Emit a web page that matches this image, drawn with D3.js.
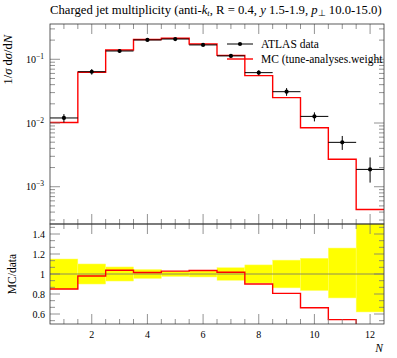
<!DOCTYPE html>
<html>
<head>
<meta charset="utf-8">
<script src="https://d3js.org/d3.v7.min.js"></script>
<style>
  body { margin: 0; background: #fff; }
  text { font-family: "Liberation Serif", serif; fill: #000; }
</style>
</head>
<body>
<svg id="chart" width="397" height="358"></svg>
<script>
// values
const nBins     = [1, 2, 3, 4, 5, 6, 7, 8, 9, 10, 11, 12];
const dataVal   = [0.0120, 0.0638, 0.135, 0.201, 0.208, 0.168, 0.113, 0.0617, 0.0310, 0.0127, 0.00497, 0.00187];
const dataErrUp = [0.0018, 0.0064, 0.0095, 0.0090, 0.0052, 0.0050, 0.0071, 0.0056, 0.0043, 0.0020, 0.00129, 0.00101];
const dataErrDn = [0.0018, 0.0064, 0.0095, 0.0090, 0.0052, 0.0050, 0.0071, 0.0056, 0.0043, 0.0021, 0.00119, 0.00071];
const mcVal     = [0.0102, 0.0625, 0.140, 0.204, 0.214, 0.174, 0.115, 0.0555, 0.0250, 0.00842, 0.00270, 0.00044];
const xTicks  = [2, 4, 6, 8, 10, 12];
const ratioTicks = [0.6, 0.8, 1, 1.2, 1.4];
const logTicks = [-1, -2, -3];

const svg = d3.select("svg#chart");
const pLeft = 50, pRight = 384, pTop = 24, pMid = 224, pBottom = 324;

const x  = d3.scaleLinear().domain([0.5, 12.5]).range([pLeft, pRight]);
const y  = d3.scaleLog().domain([2.6e-4, 0.358]).range([pMid, pTop]);
const yr = d3.scaleLinear().domain([0.5, 1.5]).range([pBottom, pMid]);

const bins = nBins.map((n, i) => ({
  lo: n - 0.5, hi: n + 0.5, n: n,
  d: dataVal[i], eu: dataErrUp[i], ed: dataErrDn[i], mc: mcVal[i]
}));

const defs = svg.append("defs");
defs.append("clipPath").attr("id", "clipR")
  .append("rect").attr("x", pLeft).attr("y", pMid).attr("width", pRight - pLeft).attr("height", pBottom - pMid);
defs.append("clipPath").attr("id", "clipM")
  .append("rect").attr("x", pLeft).attr("y", pTop).attr("width", pRight - pLeft).attr("height", pMid - pTop);

// ---- ratio panel ----
const rp = svg.append("g").attr("clip-path", "url(#clipR)");
rp.selectAll("rect.band").data(bins).join("rect")
  .attr("class", "band")
  .attr("x", d => x(d.lo)).attr("width", d => x(d.hi) - x(d.lo))
  .attr("y", d => yr(1 + d.eu / d.d))
  .attr("height", d => yr(1 - d.ed / d.d) - yr(1 + d.eu / d.d))
  .attr("fill", "#ffff00").attr("stroke", "#ffff66").attr("stroke-width", 0.5);
rp.append("line")
  .attr("x1", pLeft).attr("x2", pRight).attr("y1", yr(1)).attr("y2", yr(1))
  .attr("stroke", "#808060").attr("stroke-width", 0.9);

const stepPts = (acc, sc) => {
  const pts = [];
  bins.forEach(b => { pts.push([x(b.lo), sc(acc(b))]); pts.push([x(b.hi), sc(acc(b))]); });
  return pts;
};
rp.append("path")
  .attr("d", d3.line()(stepPts(b => Math.max(b.mc / b.d, 0.3), yr)))
  .attr("fill", "none").attr("stroke", "#ff0000").attr("stroke-width", 1.4);

// ---- main panel ----
const mp = svg.append("g").attr("clip-path", "url(#clipM)");
mp.append("path")
  .attr("d", d3.line()(stepPts(b => b.mc, y)))
  .attr("fill", "none").attr("stroke", "#ff0000").attr("stroke-width", 1.4);

const pts = mp.selectAll("g.pt").data(bins).join("g").attr("class", "pt");
pts.append("line")
  .attr("x1", d => x(d.lo)).attr("x2", d => x(d.hi))
  .attr("y1", d => y(d.d)).attr("y2", d => y(d.d))
  .attr("stroke", "#000").attr("stroke-width", 1);
pts.append("line")
  .attr("x1", d => x(d.n)).attr("x2", d => x(d.n))
  .attr("y1", d => y(d.d - d.ed)).attr("y2", d => y(d.d + d.eu))
  .attr("stroke", "#000").attr("stroke-width", 1);
pts.append("circle")
  .attr("cx", d => x(d.n)).attr("cy", d => y(d.d)).attr("r", 2.1).attr("fill", "#000");

// ---- frames and ticks ----
const tk = svg.append("g").attr("stroke", "#777").attr("stroke-width", 0.8);
function xTickMarks(yTop, yBot) {
  d3.range(1, 12.5, 0.5).forEach(v => {
    const major = xTicks.includes(v);
    const L = major ? 10 : 5;
    tk.append("line").attr("x1", x(v)).attr("x2", x(v)).attr("y1", yTop).attr("y2", yTop + L);
    tk.append("line").attr("x1", x(v)).attr("x2", x(v)).attr("y1", yBot).attr("y2", yBot - L);
  });
}
xTickMarks(pTop, pMid);
xTickMarks(pMid, pBottom);

function yTickMark(py, L) {
  tk.append("line").attr("x1", pLeft).attr("x2", pLeft + L).attr("y1", py).attr("y2", py);
  tk.append("line").attr("x1", pRight).attr("x2", pRight - L).attr("y1", py).attr("y2", py);
}
// log ticks
y.ticks().forEach(v => {
  const lg = Math.log10(v);
  const major = Math.abs(lg - Math.round(lg)) < 1e-6;
  yTickMark(y(v), major ? 10 : 5);
});
// ratio ticks
d3.range(0, 16).map(k => 0.6 + k * 0.2 / 3 - 0.2 / 3).forEach(v => {
  if (v < 0.5 || v > 1.5) return;
  const major = ratioTicks.some(t => Math.abs(t - v) < 1e-6);
  yTickMark(yr(v), major ? 10 : 5);
});

svg.append("rect").attr("x", pLeft).attr("y", pTop).attr("width", pRight - pLeft).attr("height", pMid - pTop)
  .attr("fill", "none").attr("stroke", "#333").attr("stroke-width", 0.8);
svg.append("rect").attr("x", pLeft).attr("y", pMid).attr("width", pRight - pLeft).attr("height", pBottom - pMid)
  .attr("fill", "none").attr("stroke", "#333").attr("stroke-width", 0.8);

// ---- labels ----
const lab = svg.append("g").attr("font-size", 10);
logTicks.forEach(p => {
  const t = lab.append("text").attr("x", 44).attr("y", y(Math.pow(10, p)) + 3.5).attr("text-anchor", "end");
  t.append("tspan").text("10");
  t.append("tspan").attr("dy", -4).attr("font-size", 7.5).text("\u2212" + (-p));
});
ratioTicks.forEach(v => {
  lab.append("text").attr("x", 45).attr("y", yr(v) + 3.5).attr("text-anchor", "end").text(d3.format("~g")(v));
});
xTicks.forEach(v => {
  lab.append("text").attr("x", x(v)).attr("y", 338).attr("text-anchor", "middle").text(v);
});

svg.append("text").attr("x", 383).attr("y", 352).attr("text-anchor", "end")
  .attr("font-size", 11.5).attr("font-style", "italic").text("N");

const yl = svg.append("text").attr("transform", "translate(12,35) rotate(-90)")
  .attr("text-anchor", "end").attr("font-size", 12.5);
yl.append("tspan").text("1/");
yl.append("tspan").attr("font-style", "italic").text("\u03c3");
yl.append("tspan").text(" d");
yl.append("tspan").attr("font-style", "italic").text("\u03c3");
yl.append("tspan").text("/d");
yl.append("tspan").attr("font-style", "italic").text("N");

svg.append("text").attr("transform", "translate(16,274) rotate(-90)")
  .attr("text-anchor", "middle").attr("font-size", 11.5).text("MC/data");

// title
const tt = svg.append("text").attr("x", 50).attr("y", 13.5).attr("font-size", 12.7);
tt.append("tspan").text("Charged jet multiplicity (anti-");
tt.append("tspan").attr("font-style", "italic").text("k");
tt.append("tspan").attr("font-style", "italic").attr("font-size", 8.5).attr("dy", 2).text("t");
tt.append("tspan").attr("dy", -2).text(", R = 0.4, ");
tt.append("tspan").attr("font-style", "italic").text("y");
tt.append("tspan").text(" 1.5-1.9, ");
tt.append("tspan").attr("font-style", "italic").text("p");
tt.append("tspan").attr("font-size", 8.5).attr("dy", 2).text("\u22a5");
tt.append("tspan").attr("dy", -2).text(" 10.0-15.0)");

// legend
const lg = svg.append("g");
lg.append("line").attr("x1", 227).attr("x2", 253).attr("y1", 44).attr("y2", 44).attr("stroke", "#000");
lg.append("circle").attr("cx", 240).attr("cy", 44).attr("r", 2.1).attr("fill", "#000");
lg.append("text").attr("x", 261).attr("y", 48).attr("font-size", 11.5).text("ATLAS data");
lg.append("line").attr("x1", 227).attr("x2", 253).attr("y1", 59).attr("y2", 59)
  .attr("stroke", "#ff0000").attr("stroke-width", 1.4);
lg.append("text").attr("x", 261).attr("y", 63).attr("font-size", 11.5).text("MC (tune-analyses.weight");
</script>
</body>
</html>
